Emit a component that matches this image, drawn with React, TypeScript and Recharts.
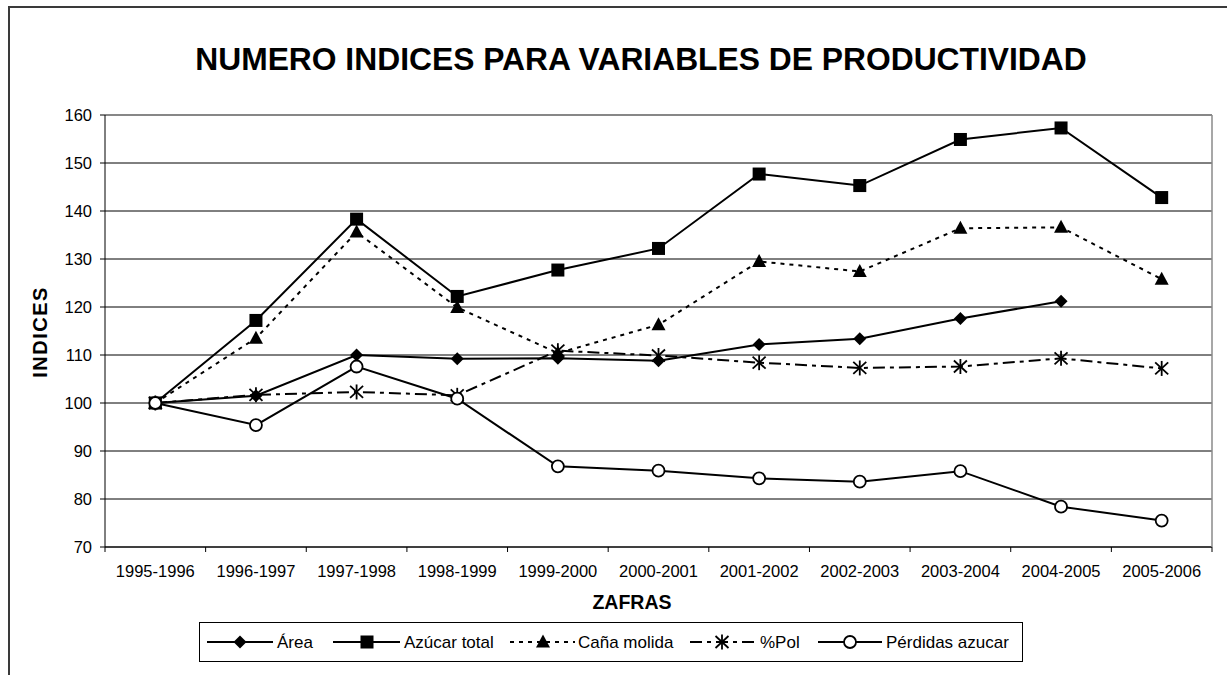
import { CartesianGrid, Line, LineChart, ReferenceLine, XAxis, YAxis } from "recharts";

// Numero indices (base 1995-1996 = 100) por zafra
const zafras = [
  "1995-1996",
  "1996-1997",
  "1997-1998",
  "1998-1999",
  "1999-2000",
  "2000-2001",
  "2001-2002",
  "2002-2003",
  "2003-2004",
  "2004-2005",
  "2005-2006",
];
const area = [100, 101.5, 110, 109.2, 109.3, 108.8, 112.2, 113.4, 117.6, 121.2, null];
const azucarTotal = [100, 117.2, 138.3, 122.2, 127.7, 132.2, 147.7, 145.3, 154.9, 157.3, 142.8];
const canaMolida = [100, 113.5, 135.6, 119.9, 110.4, 116.3, 129.5, 127.4, 136.4, 136.6, 125.8];
const pol = [100, 101.7, 102.3, 101.6, 110.9, 109.9, 108.4, 107.3, 107.6, 109.3, 107.2];
const perdidas = [100, 95.4, 107.6, 100.9, 86.8, 85.9, 84.3, 83.6, 85.8, 78.4, 75.5];
const yTicks = [70, 80, 90, 100, 110, 120, 130, 140, 150, 160];

type MarkerKind = "diamond" | "square" | "triangle" | "star" | "circle";

const SERIES: { key: string; name: string; marker: MarkerKind; dash?: string }[] = [
  { key: "area", name: "Área", marker: "diamond" },
  { key: "azucar", name: "Azúcar total", marker: "square" },
  { key: "cana", name: "Caña molida", marker: "triangle", dash: "4 5" },
  { key: "pol", name: "%Pol", marker: "star", dash: "12 5 4 5" },
  { key: "perdidas", name: "Pérdidas azucar", marker: "circle" },
];

const data = zafras.map((z, i) => ({
  zafra: z,
  area: area[i],
  azucar: azucarTotal[i],
  cana: canaMolida[i],
  pol: pol[i],
  perdidas: perdidas[i],
}));

const W = 1227;
const H = 675;
const PLOT_LEFT = 105;
const PLOT_RIGHT = 1212;
const PLOT_TOP = 115;
const PLOT_BOTTOM = 547;
const BAND = (PLOT_RIGHT - PLOT_LEFT) / zafras.length;
const FONT = "'Liberation Sans', Arial, sans-serif";

function Marker({ kind, cx, cy }: { kind: MarkerKind; cx: number; cy: number }) {
  switch (kind) {
    case "diamond":
      return <polygon points={`${cx},${cy - 6.5} ${cx + 6.5},${cy} ${cx},${cy + 6.5} ${cx - 6.5},${cy}`} fill="#000" />;
    case "square":
      return <rect x={cx - 6.5} y={cy - 6.5} width={13} height={13} fill="#000" />;
    case "triangle":
      return <polygon points={`${cx},${cy - 7.5} ${cx + 7},${cy + 5.5} ${cx - 7},${cy + 5.5}`} fill="#000" />;
    case "star":
      return (
        <g stroke="#000" strokeWidth={1.8}>
          <line x1={cx} y1={cy - 7.5} x2={cx} y2={cy + 7.5} />
          <line x1={cx - 6.5} y1={cy - 6} x2={cx + 6.5} y2={cy + 6} />
          <line x1={cx - 6.5} y1={cy + 6} x2={cx + 6.5} y2={cy - 6} />
        </g>
      );
    default:
      return <circle cx={cx} cy={cy} r={6} fill="#fff" stroke="#000" strokeWidth={1.8} />;
  }
}

function makeDot(kind: MarkerKind) {
  return (props: any) => {
    const { cx, cy, value, index } = props;
    if (value == null || cy == null || Number.isNaN(cy)) return <g key={`e-${index}`} />;
    return (
      <g key={`d-${kind}-${index}`}>
        <Marker kind={kind} cx={cx} cy={cy} />
      </g>
    );
  };
}

function XTick(props: any) {
  const { x, payload, index } = props;
  return (
    <g>
      <line x1={x - BAND / 2} y1={PLOT_BOTTOM} x2={x - BAND / 2} y2={PLOT_BOTTOM + 5} stroke="#000" />
      {index === zafras.length - 1 && (
        <line x1={x + BAND / 2} y1={PLOT_BOTTOM} x2={x + BAND / 2} y2={PLOT_BOTTOM + 5} stroke="#000" />
      )}
      <text x={x} y={PLOT_BOTTOM + 30} textAnchor="middle" fontSize={16.5} fontFamily={FONT} fill="#000">
        {payload.value}
      </text>
    </g>
  );
}

// legend item positions: sample line start/end, marker center, text start
const LEGEND_POS = [
  { x1: 207, x2: 273, mx: 240, tx: 277 },
  { x1: 333, x2: 400, mx: 367, tx: 404 },
  { x1: 510, x2: 575, mx: 543, tx: 578 },
  { x1: 690, x2: 755, mx: 722, tx: 760 },
  { x1: 818, x2: 882, mx: 850, tx: 886 },
];

export default function App() {
  return (
    <div style={{ position: "absolute", left: 0, top: 0, width: W, height: H, overflow: "hidden", background: "#fff" }}>
      <div
        style={{
          position: "absolute",
          left: 8,
          top: 6,
          width: W + 40,
          height: H + 40,
          border: "2px solid #3a3a3a",
          boxSizing: "border-box",
        }}
      />
      <div style={{ position: "absolute", left: 0, top: 0 }}>
        <LineChart width={W} height={H} data={data} margin={{ top: PLOT_TOP, right: W - PLOT_RIGHT, bottom: 88, left: 45 }}>
          <CartesianGrid vertical={false} stroke="#000" strokeWidth={1} />
          <XAxis
            dataKey="zafra"
            height={40}
            stroke="#000"
            tickLine={false}
            tick={<XTick />}
            interval={0}
            padding={{ left: BAND / 2, right: BAND / 2 }}
          />
          <YAxis
            width={60}
            domain={[70, 160]}
            ticks={yTicks}
            interval={0}
            stroke="#000"
            tickSize={5}
            tickMargin={8}
            tick={{ fontSize: 16.5, fill: "#000", fontFamily: FONT }}
          />
          <ReferenceLine y={160} stroke="#8a8a8a" strokeWidth={1.5} />
          {SERIES.map((s) => (
            <Line
              key={s.key}
              dataKey={s.key}
              name={s.name}
              stroke="#000"
              strokeWidth={2}
              strokeDasharray={s.dash}
              dot={makeDot(s.marker)}
              activeDot={false}
              isAnimationActive={false}
              type="linear"
            />
          ))}
        </LineChart>
      </div>
      <svg width={W} height={H} style={{ position: "absolute", left: 0, top: 0, pointerEvents: "none" }}>
        <line x1={PLOT_RIGHT} y1={PLOT_TOP} x2={PLOT_RIGHT} y2={PLOT_BOTTOM} stroke="#8a8a8a" strokeWidth={1.5} />
        <text x={641} y={70} textAnchor="middle" fontSize={31.8} fontWeight="bold" fontFamily={FONT} fill="#000">
          NUMERO INDICES PARA VARIABLES DE PRODUCTIVIDAD
        </text>
        <text x={632} y={609} textAnchor="middle" fontSize={19.5} fontWeight="bold" fontFamily={FONT} fill="#000">
          ZAFRAS
        </text>
        <text
          x={0}
          y={0}
          transform={`translate(47, 332) rotate(-90)`}
          textAnchor="middle"
          fontSize={20}
          fontWeight="bold"
          letterSpacing={1.5}
          fontFamily={FONT}
          fill="#000"
        >
          INDICES
        </text>
        <rect x={199.5} y={622.5} width={823} height={39} fill="#fff" stroke="#000" strokeWidth={1} />
        {SERIES.map((s, i) => {
          const p = LEGEND_POS[i];
          return (
            <g key={s.key}>
              <line x1={p.x1} y1={642} x2={p.x2} y2={642} stroke="#000" strokeWidth={2} strokeDasharray={s.dash} />
              <Marker kind={s.marker} cx={p.mx} cy={642} />
              <text x={p.tx} y={648} fontSize={17} fontFamily={FONT} fill="#000">
                {s.name}
              </text>
            </g>
          );
        })}
      </svg>
    </div>
  );
}
